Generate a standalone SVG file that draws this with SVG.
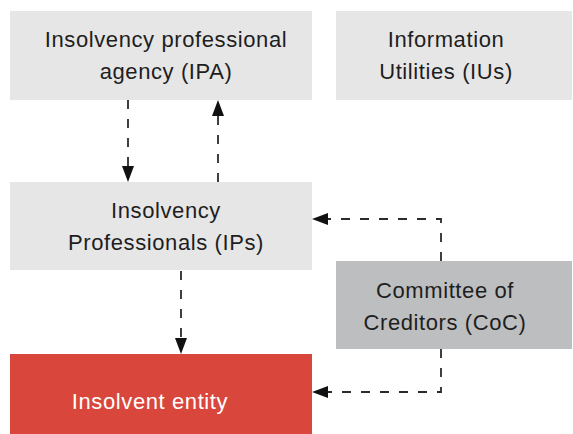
<svg xmlns="http://www.w3.org/2000/svg" width="573" height="434" viewBox="0 0 573 434">
  <style>
    .box { fill: #e6e6e7; }
    .box-dark { fill: #bdbec0; }
    .box-red { fill: #d9463b; }
    .label { font-family: "Liberation Sans", Arial, sans-serif; font-size: 22px; letter-spacing: 0.6px; fill: #1e1e1e; text-anchor: middle; }
    .label-light { fill: #ffffff; }
    .link { fill: none; stroke: #2b2b2b; stroke-width: 1.8; stroke-dasharray: 9 10; }
  </style>
  <defs>
    <marker id="head" markerUnits="userSpaceOnUse" markerWidth="16" markerHeight="12" refX="0" refY="6" orient="auto">
      <path d="M0,0 L16,6 L0,12 Z" fill="#111111"/>
    </marker>
  </defs>

  <rect width="573" height="434" fill="#ffffff"/>

  <!-- Insolvency professional agency -->
  <g id="ipa">
    <rect class="box" x="10" y="11" width="302" height="89"/>
    <text class="label" x="166" y="47">Insolvency professional</text>
    <text class="label" x="166" y="79">agency (IPA)</text>
  </g>

  <!-- Information utilities -->
  <g id="iu">
    <rect class="box" x="336" y="11" width="236" height="89"/>
    <text class="label" x="446" y="47">Information</text>
    <text class="label" x="446" y="79">Utilities (IUs)</text>
  </g>

  <!-- Insolvency professionals -->
  <g id="ips">
    <rect class="box" x="10" y="182" width="302" height="88"/>
    <text class="label" x="166" y="218">Insolvency</text>
    <text class="label" x="166" y="250">Professionals (IPs)</text>
  </g>

  <!-- Committee of creditors -->
  <g id="coc">
    <rect class="box-dark" x="336" y="261" width="236" height="88"/>
    <text class="label" x="445" y="298">Committee of</text>
    <text class="label" x="445" y="330">Creditors (CoC)</text>
  </g>

  <!-- Insolvent entity -->
  <g id="entity">
    <rect class="box-red" x="10" y="354" width="302" height="88"/>
    <text class="label label-light" x="150" y="409">Insolvent entity</text>
  </g>

  <!-- Connectors -->
  <g id="connectors">
    <path class="link" d="M128,100 L128,166" marker-end="url(#head)"/>
    <path class="link" d="M218,182 L218,116" marker-end="url(#head)"/>
    <path class="link" d="M441,261 L441,219 L328,219" marker-end="url(#head)"/>
    <path class="link" d="M181,271 L181,338" marker-end="url(#head)"/>
    <path class="link" d="M441,349 L441,392 L328,392" marker-end="url(#head)"/>
  </g>
</svg>
